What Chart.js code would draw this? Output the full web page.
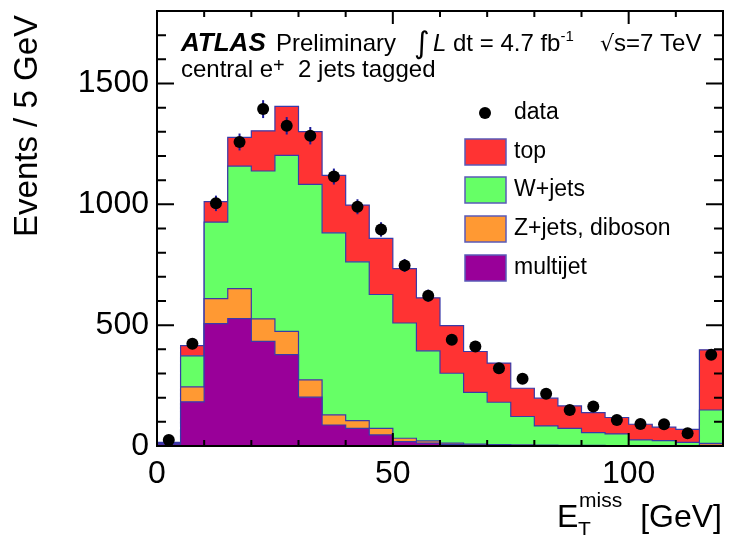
<!DOCTYPE html>
<html>
<head>
<meta charset="utf-8">
<script src="https://cdn.jsdelivr.net/npm/chart.js@4.4.0/dist/chart.umd.min.js"></script>
<style>
    html, body { margin: 0; padding: 0; background: #fff; }
    #wrap { width: 729px; height: 535px; }
</style>
</head>
<body>
<div id="wrap"><canvas id="metChart" width="729" height="535"></canvas></div>
<script>
// 5 GeV bins, last bin holds the overflow
const binEdges = [0, 5, 10, 15, 20, 25, 30, 35, 40, 45, 50, 55, 60, 65, 70, 75, 80, 85, 90, 95, 100, 105, 110, 115, 120];

const multijet     = [8, 183, 506, 527, 433, 378, 202, 87, 73, 46, 18, 12, 6, 4, 3, 2, 2, 1, 1, 1, 1, 1, 1, 3];
const zjetsDiboson = [2, 62, 104, 124, 93, 96, 72, 42, 32, 27, 14, 9, 6, 4, 3, 3, 2, 2, 2, 1, 1, 1, 1, 8];
const wjets        = [4, 128, 316, 507, 612, 729, 809, 753, 657, 554, 477, 373, 289, 214, 175, 117, 79, 70, 52, 48, 23, 20, 13, 138];
const topBkg       = [1, 42, 85, 119, 166, 202, 218, 238, 235, 232, 225, 219, 197, 169, 162, 117, 115, 93, 83, 68, 65, 56, 54, 249];

const dataCounts = [25, 423, 1004, 1258, 1394, 1325, 1284, 1115, 990, 896, 747, 622, 440, 412, 322, 278, 216, 149, 163, 108, 91, 90, 53, 378];
const dataErrors = [5, 21, 32, 35, 37, 36, 36, 33, 31, 30, 27, 25, 21, 20, 18, 17, 15, 12, 13, 10, 10, 9, 7, 19];

const xMajorTicks = [0, 50, 100];
const yMajorTicks = [0, 500, 1000, 1500];

const FONT = '"Liberation Sans", Arial, Helvetica, sans-serif';
const OUTLINE = '#3a3aa8';

function stepPoints(vals) {
    // one point per left edge, last edge repeats the last bin
    return binEdges.map((x, i) => ({ x: x, y: vals[Math.min(i, vals.length - 1)] }));
}

function histDataset(label, vals, color, fill) {
    return {
        label: label,
        data: stepPoints(vals),
        stepped: 'before',
        fill: fill,
        backgroundColor: color,
        borderColor: OUTLINE,
        borderWidth: 1.2,
        pointRadius: 0,
        tension: 0,
        stack: 'mc'
    };
}

const dataPoints = dataCounts.map((v, i) => ({ x: (binEdges[i] + binEdges[i + 1]) / 2, y: v }));

const errorBars = {
    id: 'errorBars',
    beforeDatasetDraw(chart, args) {
        if (args.index !== 4) return;
        const ctx = chart.ctx, xs = chart.scales.x, ys = chart.scales.y;
        ctx.save();
        ctx.strokeStyle = '#1a1a9a';
        ctx.lineWidth = 2;
        dataPoints.forEach((p, i) => {
            const px = xs.getPixelForValue(p.x);
            ctx.beginPath();
            ctx.moveTo(px, ys.getPixelForValue(p.y - dataErrors[i]));
            ctx.lineTo(px, ys.getPixelForValue(p.y + dataErrors[i]));
            ctx.stroke();
        });
        ctx.restore();
    }
};

function drawText(ctx, parts, x, y) {
    // parts: [text, font, dy]
    parts.forEach(p => {
        ctx.font = p[1];
        ctx.fillText(p[0], x, y + (p[2] || 0));
        x += ctx.measureText(p[0]).width;
    });
}

const frameAndLabels = {
    id: 'frameAndLabels',
    afterDraw(chart) {
        const ctx = chart.ctx, xs = chart.scales.x, ys = chart.scales.y;
        const a = chart.chartArea;
        ctx.save();
        ctx.strokeStyle = '#000';
        ctx.lineWidth = 2;
        ctx.strokeRect(a.left, a.top, a.right - a.left, a.bottom - a.top);

        // inward ticks on all four sides
        ctx.beginPath();
        for (let v = 0; v <= 1800; v += 100) {
            const py = ys.getPixelForValue(v);
            const len = v % 500 === 0 ? 17 : 9;
            ctx.moveTo(a.left, py); ctx.lineTo(a.left + len, py);
            ctx.moveTo(a.right, py); ctx.lineTo(a.right - len, py);
        }
        for (let v = 0; v <= 120; v += 10) {
            const px = xs.getPixelForValue(v);
            const len = v % 50 === 0 ? 13 : 6;
            ctx.moveTo(px, a.bottom); ctx.lineTo(px, a.bottom - len);
            ctx.moveTo(px, a.top); ctx.lineTo(px, a.top + len);
        }
        ctx.stroke();

        ctx.fillStyle = '#000';
        ctx.textBaseline = 'alphabetic';
        ctx.textAlign = 'left';

        // header
        drawText(ctx, [['ATLAS', 'italic bold 26px ' + FONT]], 181, 51);
        drawText(ctx, [['Preliminary', '24px ' + FONT]], 276, 51);
        drawText(ctx, [['\u222B', '30px "DejaVu Sans", sans-serif', 2]], 414, 51);
        drawText(ctx, [['L', 'italic 24px ' + FONT], [' dt = 4.7 fb', '24px ' + FONT], ['-1', '15px ' + FONT, -10]], 433, 51);
        drawText(ctx, [['\u221A', '22px "DejaVu Sans", sans-serif'], ['s=7 TeV', '24px ' + FONT]], 600, 51);
        drawText(ctx, [['central e', '24px ' + FONT], ['+', '20px ' + FONT, -5], ['  2 jets tagged', '24px ' + FONT]], 181, 77);

        // axis titles
        drawText(ctx, [['E', '32px ' + FONT]], 557, 527);
        drawText(ctx, [['T', '21px ' + FONT]], 578, 536);
        drawText(ctx, [['miss', '21px ' + FONT]], 579, 507);
        ctx.textAlign = 'right';
        drawText(ctx, [['[GeV]', '32px ' + FONT]], 722, 527);

        ctx.save();
        ctx.translate(37, 15);
        ctx.rotate(-Math.PI / 2);
        ctx.textAlign = 'right';
        ctx.font = '33px ' + FONT;
        ctx.fillText('Events / 5 GeV', 0, 0);
        ctx.restore();

        // legend
        ctx.textAlign = 'left';
        ctx.textBaseline = 'middle';
        ctx.font = '23px ' + FONT;
        const rowY = [113, 152, 190, 229, 268];
        ctx.beginPath();
        ctx.arc(485, rowY[0], 6, 0, Math.PI * 2);
        ctx.fill();
        ctx.fillText(chart.data.datasets[4].label, 514, rowY[0]);
        [3, 2, 1, 0].forEach((di, k) => {
            const ds = chart.data.datasets[di];
            const y = rowY[k + 1];
            ctx.fillStyle = ds.backgroundColor;
            ctx.fillRect(465, y - 13, 41, 26);
            ctx.strokeStyle = '#5a5ab8';
            ctx.lineWidth = 1.5;
            ctx.strokeRect(465, y - 13, 41, 26);
            ctx.fillStyle = '#000';
            ctx.fillText(ds.label, 514, y);
        });
        ctx.restore();
    }
};

new Chart(document.getElementById('metChart').getContext('2d'), {
    type: 'line',
    data: {
        datasets: [
            histDataset('multijet', multijet, '#990099', 'origin'),
            histDataset('Z+jets, diboson', zjetsDiboson, '#ff9933', '-1'),
            histDataset('W+jets', wjets, '#66ff66', '-1'),
            histDataset('top', topBkg, '#ff3333', '-1'),
            {
                type: 'scatter',
                label: 'data',
                data: dataPoints,
                stack: 'data',
                order: -1,
                pointRadius: 6,
                pointBackgroundColor: '#000',
                pointBorderColor: '#000',
                pointBorderWidth: 0,
                showLine: false
            }
        ]
    },
    options: {
        responsive: false,
        animation: false,
        devicePixelRatio: 1,
        layout: { padding: { top: 11, right: 6, left: 0, bottom: 0 } },
        plugins: { legend: { display: false }, tooltip: { enabled: false } },
        scales: {
            x: {
                type: 'linear',
                min: 0,
                max: 120,
                grid: { display: false, drawTicks: false },
                border: { display: false },
                afterBuildTicks: s => { s.ticks = xMajorTicks.map(v => ({ value: v })); },
                afterFit: s => { s.height = 89; s.paddingLeft = 0; s.paddingRight = 0; },
                ticks: { color: '#000', padding: 9, maxRotation: 0, font: { family: FONT, size: 32 }, callback: v => String(v) }
            },
            y: {
                stacked: true,
                min: 0,
                max: 1800,
                grid: { display: false, drawTicks: false },
                border: { display: false },
                afterBuildTicks: s => { s.ticks = yMajorTicks.map(v => ({ value: v })); },
                afterFit: s => { s.width = 157; s.paddingTop = 0; s.paddingBottom = 0; },
                ticks: { color: '#000', padding: 8, font: { family: FONT, size: 32 }, callback: v => String(v) }
            }
        }
    },
    plugins: [errorBars, frameAndLabels]
});
</script>
</body>
</html>
